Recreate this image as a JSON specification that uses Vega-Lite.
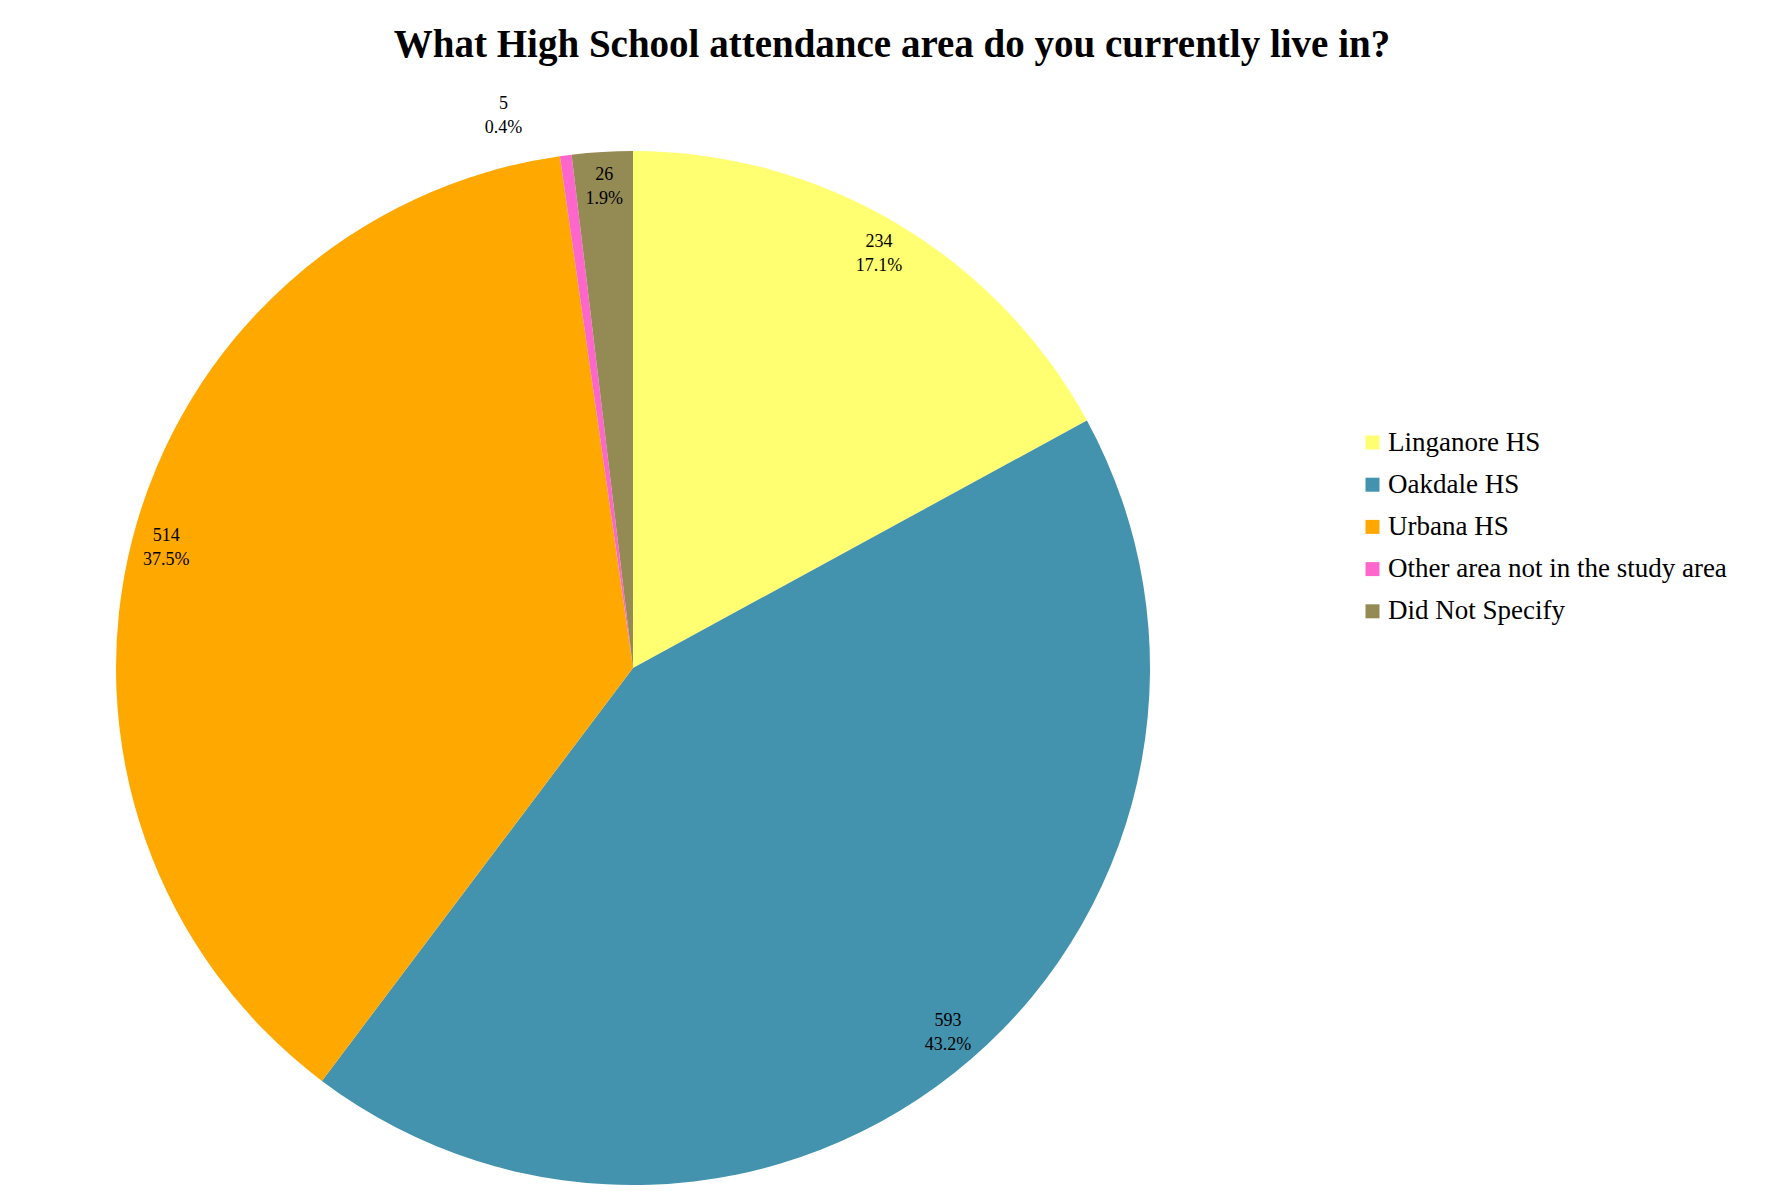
{
  "$schema": "https://vega.github.io/schema/vega-lite/v6.json",
  "width": 1266,
  "height": 1072,
  "autosize": "none",
  "padding": {"left": 0, "top": 132, "right": 512, "bottom": 0},
  "background": "white",
  "title": {
    "text": "What High School attendance area do you currently live in?",
    "font": "Liberation Serif",
    "fontSize": 39,
    "fontWeight": "bold",
    "color": "black",
    "anchor": "middle",
    "dx": 259,
    "baseline": "alphabetic",
    "offset": -5
  },
  "config": {"view": {"stroke": null}},
  "data": {
    "values": [
      {"order": 1, "area": "Linganore HS", "count": 234, "pct": "17.1%"},
      {"order": 2, "area": "Oakdale HS", "count": 593, "pct": "43.2%"},
      {"order": 3, "area": "Urbana HS", "count": 514, "pct": "37.5%"},
      {"order": 4, "area": "Other area not in the study area", "count": 5, "pct": "0.4%"},
      {"order": 5, "area": "Did Not Specify", "count": 26, "pct": "1.9%"}
    ]
  },
  "encoding": {
    "theta": {"field": "count", "type": "quantitative", "stack": true},
    "order": {"field": "order", "type": "quantitative"}
  },
  "layer": [
    {
      "mark": {"type": "arc", "radius": 517},
      "encoding": {
        "color": {
          "field": "area",
          "type": "nominal",
          "scale": {
            "domain": ["Linganore HS", "Oakdale HS", "Urbana HS", "Other area not in the study area", "Did Not Specify"],
            "range": ["#FFFF71", "#4392AE", "#FFA800", "#FF66CC", "#948A54"]
          },
          "legend": {
            "orient": "none",
            "legendX": 1359,
            "legendY": 297,
            "title": null,
            "symbolType": "square",
            "symbolSize": 196,
            "symbolOpacity": 1,
            "symbolStrokeWidth": 0,
            "labelFont": "Liberation Serif",
            "labelFontSize": 27,
            "labelColor": "black",
            "labelLimit": 0,
            "rowPadding": 14.2,
            "labelOffset": 2,
            "padding": 0
          }
        }
      }
    },
    {
      "mark": {"type": "text", "radius": 482, "dy": -12, "font": "Liberation Serif", "fontSize": 18, "color": "black"},
      "encoding": {
        "text": {"condition": {"test": "datum.area === 'Other area not in the study area'", "value": ""}, "field": "count", "type": "nominal"}
      }
    },
    {
      "mark": {"type": "text", "radius": 482, "dy": 12, "font": "Liberation Serif", "fontSize": 18, "color": "black"},
      "encoding": {
        "text": {"condition": {"test": "datum.area === 'Other area not in the study area'", "value": ""}, "field": "pct", "type": "nominal"}
      }
    },
    {
      "mark": {"type": "text", "radius": 557, "dx": -57, "dy": -12, "font": "Liberation Serif", "fontSize": 18, "color": "black"},
      "encoding": {
        "text": {"condition": {"test": "datum.area !== 'Other area not in the study area'", "value": ""}, "field": "count", "type": "nominal"}
      }
    },
    {
      "mark": {"type": "text", "radius": 557, "dx": -57, "dy": 12, "font": "Liberation Serif", "fontSize": 18, "color": "black"},
      "encoding": {
        "text": {"condition": {"test": "datum.area !== 'Other area not in the study area'", "value": ""}, "field": "pct", "type": "nominal"}
      }
    }
  ]
}
